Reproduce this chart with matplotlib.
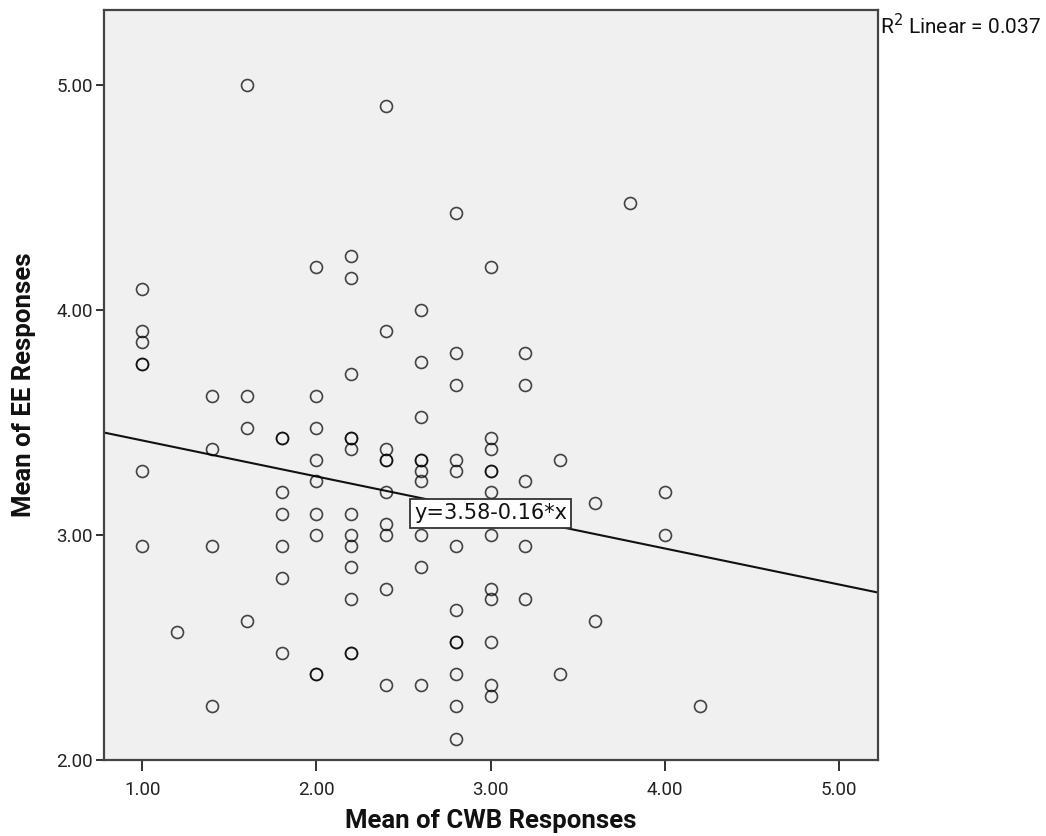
import matplotlib
matplotlib.use("Agg")
import matplotlib.pyplot as plt
import numpy as np

# ---- data ----
x_cwb = [1.0, 1.0, 1.0, 1.0, 1.0, 1.0, 1.0,
         1.2,
         1.4, 1.4, 1.4, 1.4,
         1.6, 1.6, 1.6, 1.6,
         1.8, 1.8, 1.8, 1.8, 1.8, 1.8, 1.8,
         2.0, 2.0, 2.0, 2.0, 2.0, 2.0, 2.0, 2.0, 2.0,
         2.2, 2.2, 2.2, 2.2, 2.2, 2.2, 2.2, 2.2, 2.2, 2.2, 2.2, 2.2, 2.2,
         2.4, 2.4, 2.4, 2.4, 2.4, 2.4, 2.4, 2.4, 2.4, 2.4,
         2.6, 2.6, 2.6, 2.6, 2.6, 2.6, 2.6, 2.6, 2.6, 2.6,
         2.8, 2.8, 2.8, 2.8, 2.8, 2.8, 2.8, 2.8, 2.8, 2.8, 2.8, 2.8,
         3.0, 3.0, 3.0, 3.0, 3.0, 3.0, 3.0, 3.0, 3.0, 3.0, 3.0, 3.0,
         3.2, 3.2, 3.2, 3.2, 3.2,
         3.4, 3.4,
         3.6, 3.6,
         3.8,
         4.0, 4.0,
         4.2]
y_ee = [4.095, 3.905, 3.857, 3.762, 3.762, 3.286, 2.952,
        2.571,
        3.619, 3.381, 2.952, 2.238,
        5.000, 3.619, 3.476, 2.619,
        3.429, 3.429, 3.190, 3.095, 2.952, 2.810, 2.476,
        4.190, 3.619, 3.476, 3.333, 3.238, 3.095, 3.000, 2.381, 2.381,
        4.238, 4.143, 3.714, 3.429, 3.429, 3.381, 3.095, 3.000, 2.952, 2.857, 2.714, 2.476, 2.476,
        4.905, 3.905, 3.381, 3.333, 3.333, 3.190, 3.048, 3.000, 2.762, 2.333,
        4.000, 3.770, 3.524, 3.333, 3.333, 3.286, 3.238, 3.000, 2.857, 2.333,
        4.429, 3.810, 3.667, 3.333, 3.286, 2.952, 2.667, 2.524, 2.524, 2.381, 2.238, 2.095,
        4.190, 3.429, 3.381, 3.286, 3.286, 3.190, 3.000, 2.762, 2.714, 2.524, 2.333, 2.286,
        3.810, 3.667, 3.238, 2.952, 2.714,
        3.333, 2.381,
        3.143, 2.619,
        4.476,
        3.190, 3.000,
        2.238]
fit_intercept = 3.58
fit_slope = -0.16
r2_value = 0.037
x_ticks = [1.0, 2.0, 3.0, 4.0, 5.0]
y_ticks = [2.0, 3.0, 4.0, 5.0]
x_label = "Mean of CWB Responses"
y_label = "Mean of EE Responses"
fit_label = "y=3.58-0.16*x"

plt.rcParams['font.family'] = ['Roboto', 'DejaVu Sans']

fig = plt.figure(figsize=(10.46, 8.36), dpi=100)
ax = fig.add_axes([104/1046, 76/836, (878-104)/1046, (760-10)/836])
ax.set_facecolor('#f0f0f0')

xmin, xmax = 0.78, 5.224
ymin, ymax = 2.0, 5.333
ax.set_xlim(xmin, xmax)
ax.set_ylim(ymin, ymax)

ax.plot(x_cwb, y_ee, linestyle='none', marker='o', markersize=8.6,
        markerfacecolor='none', markeredgecolor='black', markeredgewidth=1.2,
        alpha=0.72, zorder=3)

xs = np.array([xmin, xmax])
ax.plot(xs, fit_intercept + fit_slope * xs, color='#111111', linewidth=1.5, zorder=2)

ax.text(3.0, 3.096, fit_label, fontsize=15, family=['DejaVu Sans'],
        ha='center', va='center', zorder=5, color='#111111',
        bbox=dict(boxstyle='square,pad=0.2', facecolor='white', edgecolor='#333333', linewidth=1.3))

ax.set_xticks(x_ticks)
ax.set_xticklabels([f"{v:.2f}" for v in x_ticks])
ax.set_yticks(y_ticks)
ax.set_yticklabels([f"{v:.2f}" for v in y_ticks])
ax.tick_params(axis='x', direction='out', length=8, width=1.3, labelsize=13.5, pad=7, colors='#222222')
ax.tick_params(axis='y', direction='out', length=6, width=1.3, labelsize=13.5, pad=2, colors='#222222')

for s in ax.spines.values():
    s.set_color('#444444')
    s.set_linewidth(1.6)

ax.set_xlabel(x_label, fontsize=18.5, fontweight='bold', color='#111111')
ax.set_ylabel(y_label, fontsize=18.5, fontweight='bold', color='#111111')
ax.xaxis.set_label_coords(0.5, (760 - 821) / 750)
ax.xaxis.label.set_va('center')
ax.yaxis.set_label_coords((24 - 104) / 774, 0.5)
ax.yaxis.label.set_va('center')

fig.text(880/1046, 1 - 26/836, "R$^2$ Linear = " + f"{r2_value:.3f}",
         fontsize=15, ha='left', va='center', color='#111111')

fig.savefig("out.png", dpi=100)
